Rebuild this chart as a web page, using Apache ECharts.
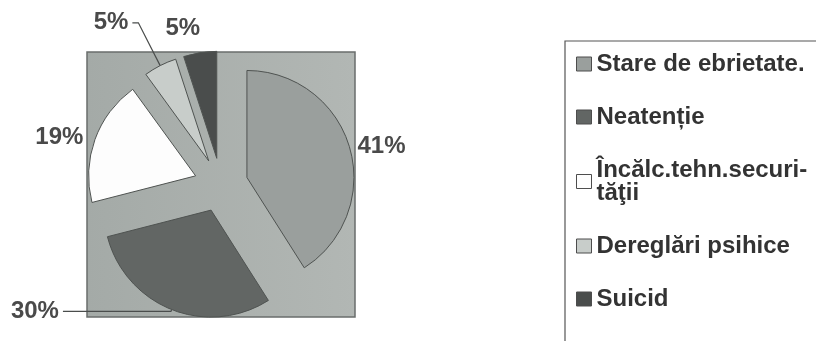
<!DOCTYPE html>
<html>
<head>
<meta charset="utf-8">
<script src="https://cdn.jsdelivr.net/npm/echarts@6/dist/echarts.min.js"></script>
<style>
  html, body { margin: 0; padding: 0; background: #fff; }
  #chart { width: 816px; height: 341px; }
</style>
</head>
<body>
<div id="chart"></div>
<script>
// categories and shares (%)
var categories = ['Stare de ebrietate.', 'Neatenție', 'Încălc.tehn.securi-tăţii', 'Dereglări psihice', 'Suicid'];
var values = [41, 30, 19, 5, 5];
var colors = ['#9a9f9d', '#626664', '#fdfdfd', '#c8cdca', '#4a4d4c'];

// label leader settings per slice: [show line, length, length2]
var leaders = [[false, 4, 0], [true, 2, 108], [false, 8, 0], [true, 48, 6], [false, 25, 0]];

var myChart = echarts.init(document.getElementById('chart'));

var pieData = categories.map(function (name, i) {
  return {
    name: name,
    value: values[i],
    selected: true,
    itemStyle: { color: colors[i] },
    select: { itemStyle: { color: colors[i], borderColor: '#4f5351', borderWidth: 1 } },
    label: { distanceToLabelLine: i === 4 ? -4 : 4 },
    labelLine: { show: leaders[i][0], length: leaders[i][1], length2: leaders[i][2] }
  };
});

var option = {
  animation: false,
  graphic: [
    {
      type: 'rect',
      z: 0,
      shape: { x: 87, y: 52, width: 268, height: 265 },
      style: {
        fill: new echarts.graphic.LinearGradient(0, 0, 1, 0, [
          { offset: 0, color: '#a4aaa7' },
          { offset: 1, color: '#b2b7b4' }
        ]),
        stroke: '#6a6e6c',
        lineWidth: 1.5
      }
    },
    {
      type: 'rect',
      z: 0,
      shape: { x: 565, y: 41, width: 300, height: 330 },
      style: { fill: '#fff', stroke: '#555', lineWidth: 1.2 }
    }
  ],
  legend: {
    orient: 'vertical',
    left: 576,
    top: 52,
    padding: 0,
    itemWidth: 15,
    itemHeight: 14,
    itemGap: 29,
    icon: 'rect',
    selectedMode: false,
    itemStyle: { borderColor: '#4d4d4d', borderWidth: 1 },
    formatter: function (name) {
      return name.replace('securi-', 'securi-\n');
    },
    textStyle: {
      fontFamily: 'Liberation Sans, Arial, sans-serif',
      fontSize: 24,
      fontWeight: 'bold',
      color: '#333',
      lineHeight: 23
    },
    data: categories
  },
  series: [{
    type: 'pie',
    center: [221, 185],
    radius: 107,
    startAngle: 90,
    clockwise: true,
    selectedMode: 'multiple',
    selectedOffset: 27,
    avoidLabelOverlap: false,
    itemStyle: { borderColor: '#4f5351', borderWidth: 1 },
    emphasis: { disabled: true },
    label: {
      show: true,
      position: 'outside',
      formatter: '{c}%',
      fontFamily: 'Liberation Sans, Arial, sans-serif',
      fontSize: 24,
      fontWeight: 'bold',
      color: '#4a4a4a'
    },
    labelLine: {
      lineStyle: { color: '#4a4d4c', width: 1.2 }
    },
    data: pieData
  }]
};

myChart.setOption(option);
</script>
</body>
</html>
